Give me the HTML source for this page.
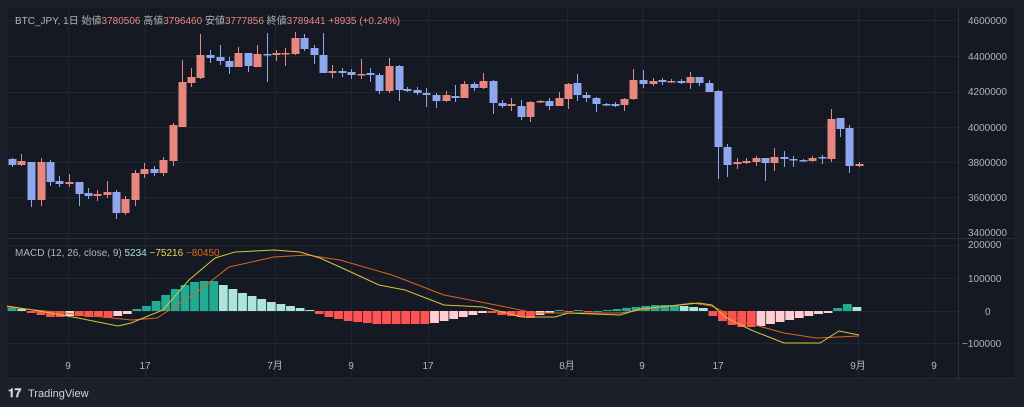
<!DOCTYPE html>
<html><head><meta charset="utf-8">
<style>
html,body{margin:0;padding:0;background:#1c202b;width:1024px;height:407px;overflow:hidden}
svg{display:block}
text{font-family:"Liberation Sans","Noto Sans CJK JP",sans-serif}
</style></head>
<body>
<svg id="s" width="1024" height="407" xmlns="http://www.w3.org/2000/svg">
<rect x="0" y="0" width="1024" height="407" fill="#1c202b"/>
<rect x="8" y="8" width="1006" height="372" fill="#151924"/>
<g id="grid" stroke="#22262f" stroke-width="1"></g>
<line x1="958.5" y1="8" x2="958.5" y2="380" stroke="#2a2e39"/>
<line x1="8" y1="238.5" x2="1014" y2="238.5" stroke="#2a2e39"/>
<line x1="8" y1="378.5" x2="1014" y2="378.5" stroke="#2a2e39"/>
<g id="hist"></g>
<g id="candles"></g>
<polyline id="sig" fill="none" stroke="#d9651f" stroke-width="1"/>
<polyline id="macd" fill="none" stroke="#d9c43a" stroke-width="1"/>
<g fill="#b2b5be" font-size="10">
<text x="968" y="24">4600000</text><text x="968" y="60">4400000</text><text x="968" y="95">4200000</text><text x="968" y="131">4000000</text><text x="968" y="166">3800000</text><text x="968" y="201">3600000</text><text x="968" y="236">3400000</text>
<text x="968" y="248">200000</text><text x="968" y="282">100000</text><text x="985" y="315">0</text><text x="962" y="347">−100000</text>
<g text-anchor="middle"><text x="68" y="369">9</text><text x="145" y="369">17</text><text x="275" y="369">7月</text><text x="351" y="369">9</text><text x="428" y="369">17</text><text x="567" y="369">8月</text><text x="642" y="369">9</text><text x="718" y="369">17</text><text x="858" y="369">9月</text><text x="934" y="369">9</text></g>
</g>
<text x="15" y="24" font-size="10" fill="#b2b5be">BTC_JPY, 1日  始値<tspan fill="#e8877f">3780506</tspan>  高値<tspan fill="#e8877f">3796460</tspan>  安値<tspan fill="#e8877f">3777856</tspan>  終値<tspan fill="#e8877f">3789441</tspan>  <tspan fill="#e8877f">+8935 (+0.24%)</tspan></text>
<text x="15" y="256" font-size="10" fill="#b2b5be">MACD (12, 26, close, 9)  <tspan fill="#a7e3db">5234</tspan>  <tspan fill="#e8d84a">−75216</tspan>  <tspan fill="#e0641c">−80450</tspan></text>
<text x="8" y="397" font-size="12" font-weight="bold" fill="#d1d4dc">𝟏𝟕</text>
<text x="28" y="397" font-size="11" fill="#d1d4dc">TradingView</text>
</svg>
<script>
var NS="http://www.w3.org/2000/svg";
function el(p,t,a){var e=document.createElementNS(NS,t);for(var k in a)e.setAttribute(k,a[k]);p.appendChild(e);return e;}
var g=document.getElementById('grid');
[20,56,92,127,162,197,233,245,278,311,343].forEach(function(y){el(g,'line',{x1:8,x2:958,y1:y+.5,y2:y+.5});});
[68,145,275,351,428,567,642,718,858,934].forEach(function(x){el(g,'line',{x1:x+.5,x2:x+.5,y1:8,y2:378});});
// candles: x, top, bottom, high, low, color(r/b)
var C=[[12,159,165,158,167,'b'],[21,161,165,154,166,'r'],[31,162,200,162,207,'b'],[41,162,200,158,206,'r'],[50,162,182,160,186,'b'],[59,181,184,176,187,'b'],[69,182,184,174,187,'r'],[79,182,194,182,206,'b'],[88,193,196,188,199,'b'],[97,194,196,190,201,'r'],[107,192,195,181,198,'r'],[116,192,213,190,219,'b'],[125,199,213,196,215,'r'],[135,173,200,170,206,'r'],[144,169,174,163,178,'r'],[154,169,173,166,176,'b'],[163,160,173,157,176,'r'],[173,125,161,123,166,'r'],[182,82,127,60,127,'r'],[191,77,83,68,87,'r'],[200,55,78,34,79,'r'],[210,55,58,50,63,'b'],[220,57,61,45,65,'b'],[229,61,67,57,74,'b'],[238,53,67,47,67,'r'],[248,53,66,53,72,'b'],[257,54,67,45,67,'r'],[267,54,55,33,82,'b'],[276,53,55,50,61,'r'],[285,53,54,48,66,'r'],[295,38,54,32,55,'r'],[304,38,49,34,51,'b'],[314,48,55,45,64,'b'],[323,55,73,33,73,'b'],[332,71,73,65,78,'r'],[342,71,73,68,77,'b'],[351,72,75,69,79,'b'],[361,74,75,59,79,'r'],[370,73,75,68,82,'b'],[379,75,91,73,94,'b'],[389,66,91,58,93,'r'],[399,66,90,65,101,'b'],[407,89,91,87,92,'b'],[417,90,93,87,95,'b'],[426,93,95,88,107,'b'],[436,95,101,93,108,'b'],[446,95,101,91,102,'r'],[455,96,98,85,102,'b'],[464,84,98,81,98,'r'],[474,84,88,82,91,'b'],[483,81,88,73,89,'r'],[493,81,103,80,114,'b'],[502,103,106,100,108,'b'],[511,104,106,98,111,'r'],[521,106,117,100,120,'b'],[530,102,117,101,122,'r'],[540,101,102,100,103,'r'],[549,101,106,98,110,'b'],[559,98,106,92,106,'r'],[568,84,99,83,109,'r'],[577,83,95,74,101,'b'],[586,95,98,92,102,'b'],[596,98,104,97,112,'b'],[606,104,105,103,106,'b'],[615,104,106,102,107,'b'],[624,99,105,98,111,'r'],[633,80,99,69,100,'r'],[643,80,84,70,88,'b'],[653,81,84,78,86,'r'],[662,80,82,78,85,'b'],[671,81,82,79,83,'r'],[681,81,83,79,84,'b'],[690,77,83,72,89,'r'],[699,77,83,77,86,'b'],[709,83,92,80,92,'b'],[718,91,147,90,179,'b'],[727,147,165,144,177,'b'],[737,162,164,158,169,'r'],[746,161,163,158,164,'r'],[756,158,162,156,166,'r'],[765,158,163,158,181,'b'],[774,157,163,148,171,'r'],[784,157,159,151,167,'b'],[793,159,160,156,167,'b'],[803,160,161,159,162,'b'],[812,158,161,156,162,'r'],[822,157,158,155,164,'b'],[831,119,159,109,162,'r'],[840,118,129,118,137,'b'],[849,128,166,125,173,'b'],[859,164,166,162,167,'r']];
var cg=document.getElementById('candles');
C.forEach(function(c){var col=c[5]=='r'?'#e8877f':'#8fa7ef';
el(cg,'line',{x1:c[0]+.5,x2:c[0]+.5,y1:c[3],y2:c[4],stroke:col,'stroke-width':1});
el(cg,'rect',{x:c[0]-3.5,y:c[1],width:8,height:Math.max(1.5,c[2]-c[1]),fill:col});});
// histogram
var H=[3,2,-2,-4,-6,-6,-5,-5,-6,-6,-7,-5,-3,2,5,10,16,22,26,29,30,30,26,22,18,15,12,9,7,5,3,1,-3,-6,-8,-10,-11,-12,-13,-13,-13,-13,-13,-13,-12,-10,-8,-6,-4,-2,-2,-4,-5,-6,-7,-4,-2,1,-1,1,-1,0,1,2,3,4,5,6,6,6,5,4,3,-5,-10,-14,-16,-16,-15,-13,-11,-9,-7,-5,-3,-2,3,7,4];
var hg=document.getElementById('hist'),z=311;
for(var i=0;i<H.length;i++){var v=H[i],p=i?H[i-1]:0,col;
if(v>=0)col=(v>=p)?'#22ab94':'#ace5dc';else col=(v<=p)?'#ff5252':'#ffcdd2';
var x=12+9.6*i;el(hg,'rect',{x:x-4.3,y:v>=0?z-v:z,width:8.8,height:Math.max(1,Math.abs(v)),fill:col});}
var M=[[7,306],[39,311],[78,318],[118,326],[131,323],[163,310],[189,280],[215,258],[235,252],[274,250],[300,252],[320,258],[353,273],[379,285],[405,290],[444,305],[483,307],[522,317],[555,317],[568,313],[620,315],[640,309],[699,303],[712,305],[725,317],[751,330],[784,343],[820,343],[839,331],[859,335]];
var S=[[7,307],[65,313],[131,320],[157,318],[196,293],[229,267],[274,257],[307,255],[340,260],[392,275],[444,295],[496,305],[535,313],[575,313],[620,313],[692,303],[712,306],[744,322],[784,333],[816,338],[859,336]];
document.getElementById('macd').setAttribute('points',M.join(' '));
document.getElementById('sig').setAttribute('points',S.join(' '));
</script>
</body></html>
